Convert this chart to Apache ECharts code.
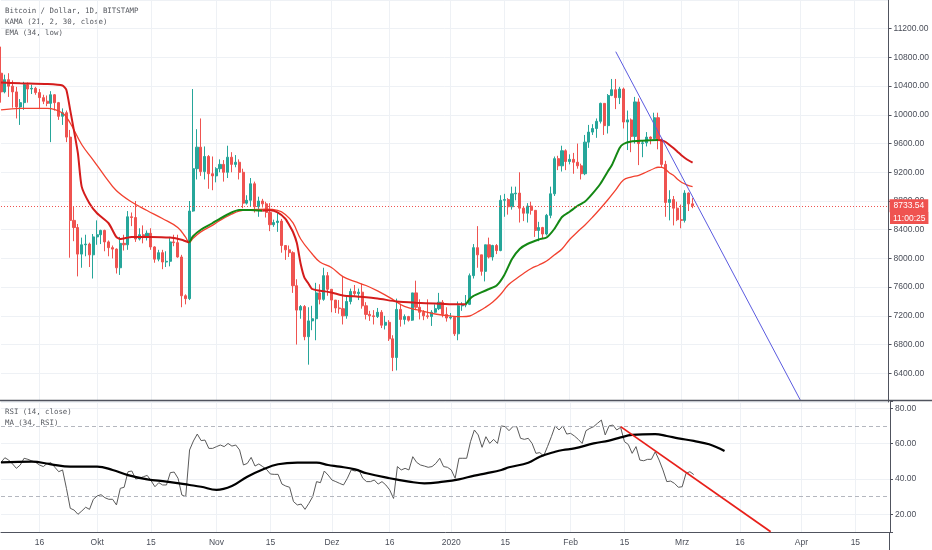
<!DOCTYPE html>
<html>
<head>
<meta charset="utf-8">
<script src="https://cdn.jsdelivr.net/npm/echarts@6.0.0/dist/echarts.min.js"></script>
<style>
  html, body { margin: 0; padding: 0; background: #fff; }
  #chart { width: 932px; height: 550px; }
</style>
</head>
<body>
<div id="chart"></div>
<script>
// daily axis, Sep 6 2019 .. Apr 24 2020
var cats = [];
for (var t = Date.UTC(2019, 8, 6); t <= Date.UTC(2020, 3, 24); t += 864e5) {
  cats.push(new Date(t).toISOString().slice(0, 10));
}

// date label -> tick text
var dateLabels = {
  '2019-09-16': '16', '2019-10-01': 'Okt', '2019-10-15': '15', '2019-11-01': 'Nov',
  '2019-11-15': '15', '2019-12-01': 'Dez', '2019-12-16': '16', '2020-01-01': '2020',
  '2020-01-15': '15', '2020-02-01': 'Feb', '2020-02-15': '15', '2020-03-01': 'Mrz',
  '2020-03-16': '16', '2020-04-01': 'Apr', '2020-04-15': '15'
};

// [open, close, low, high], one row per day from 2019-09-06
var ohlc = [
  [10580,10320,10170,10950],[10320,10490,10300,10560],[10490,10400,10250,10580],[10400,10320,10100,10480],
  [10320,10110,9950,10390],[10110,10170,9860,10220],[10170,10420,10070,10460],[10420,10360,10170,10450],
  [10360,10370,10290,10420],[10370,10310,10280,10390],[10310,10240,10080,10360],[10240,10190,10150,10280],
  [10190,10160,10120,10270],[10160,10280,9620,10330],[10280,10170,10060,10290],[10170,9980,9930,10180],
  [9980,10030,9860,10090],[10030,9690,9620,10060],[9690,8530,8010,9790],[8530,8430,8240,8730],
  [8430,8060,7750,8480],[8060,8190,7870,8290],[8190,8200,8030,8330],[8200,8050,7880,8220],
  [8050,8300,7720,8340],[8300,8330,8190,8530],[8330,8390,8200,8400],[8390,8230,8100,8400],
  [8230,8150,8030,8250],[8150,8130,8000,8180],[8130,7870,7790,8140],[7870,8210,7770,8300],
  [8210,8190,8110,8330],[8190,8580,8120,8660],[8580,8570,8450,8640],[8570,8270,8230,8800],
  [8270,8330,8250,8420],[8330,8290,8210,8460],[8290,8350,8250,8390],[8350,8160,8120,8420],
  [8160,7990,7940,8170],[7990,8080,7960,8120],[8080,7950,7850,8120],[7950,7960,7880,8100],
  [7960,8230,7890,8300],[8230,8220,8170,8330],[8220,8020,8010,8330],[8020,7480,7320,8050],
  [7480,7440,7360,7500],[7440,8660,7420,8800],[8660,9250,8650,10360],[9250,9550,9100,9800],
  [9550,9210,9150,9950],[9210,9420,9100,9560],[9420,9180,8970,9440],[9180,9150,8950,9420],
  [9150,9250,9060,9270],[9250,9310,9200,9380],[9310,9200,9070,9370],[9200,9410,9120,9570],
  [9410,9310,9200,9480],[9310,9340,9270,9440],[9340,9200,9100,9380],[9200,8770,8700,9250],
  [8770,8810,8750,8880],[8810,9040,8730,9120],[9040,8720,8640,9070],[8720,8800,8580,8860],
  [8800,8760,8710,8830],[8760,8640,8570,8790],[8640,8470,8380,8770],[8470,8500,8440,8540],
  [8500,8520,8370,8640],[8520,8180,8080,8550],[8180,8120,7980,8180],[8120,8080,8020,8180],
  [8080,7620,7520,8100],[7620,7280,6800,7710],[7280,7330,7160,7350],[7330,6910,6860,7350],
  [6910,7130,6520,7320],[7130,7160,7000,7340],[7160,7520,6860,7660],[7520,7430,7360,7640],
  [7430,7760,7410,7870],[7760,7570,7480,7810],[7570,7420,7250,7570],[7420,7310,7240,7420],
  [7310,7300,7230,7420],[7300,7200,7080,7750],[7200,7400,7160,7490],[7400,7540,7360,7580],
  [7540,7510,7480,7630],[7510,7530,7420,7580],[7530,7340,7300,7650],[7340,7220,7150,7390],
  [7220,7200,7130,7270],[7200,7190,7080,7280],[7190,7250,7170,7310],[7250,7070,7030,7280],
  [7070,7110,7010,7200],[7110,6880,6850,7140],[6880,6620,6430,6930],[6620,7290,6440,7440],
  [7290,7150,7050,7370],[7150,7190,7080,7220],[7190,7140,7120,7200],[7140,7520,7130,7520],
  [7520,7320,7280,7690],[7320,7250,7150,7430],[7250,7200,7140,7280],[7200,7190,7160,7430],
  [7190,7250,7060,7280],[7250,7300,7240,7360],[7300,7390,7280,7520],[7390,7220,7180,7420],
  [7220,7170,7120,7320],[7170,7180,7150,7240],[7180,6950,6920,7190],[6950,7340,6860,7400],
  [7340,7350,7270,7390],[7350,7360,7320,7490],[7360,7760,7350,7790],[7760,8150,7720,8200],
  [8150,8050,7870,8450],[8050,7820,7760,8050],[7820,8190,7680,8190],[8190,8020,8000,8290],
  [8020,8180,7970,8190],[8180,8110,8060,8200],[8110,8810,8100,8880],[8810,8820,8580,8900],
  [8820,8720,8610,8840],[8720,8900,8680,9000],[8900,8910,8810,9000],[8910,8700,8500,9200],
  [8700,8630,8520,8720],[8630,8730,8500,8770],[8730,8670,8610,8790],[8670,8390,8300,8670],
  [8390,8430,8240,8510],[8430,8340,8280,8440],[8340,8600,8320,8620],[8600,8900,8560,9000],
  [8900,9390,8870,9420],[9390,9290,9230,9430],[9290,9500,9210,9570],[9500,9350,9230,9520],
  [9350,9380,9310,9450],[9380,9340,9180,9470],[9340,9290,9250,9600],[9290,9180,9100,9320],
  [9180,9620,9160,9720],[9620,9760,9540,9860],[9760,9810,9720,9870],[9810,9910,9680,9950],
  [9910,10160,9880,10170],[10160,9850,9720,10160],[9850,10270,9740,10290],[10270,10350,10260,10500],
  [10350,10240,10080,10500],[10240,10360,10150,10390],[10360,9900,9810,10380],[9900,9930,9510,10060],
  [9930,9700,9480,9950],[9700,10180,9600,10250],[10180,9600,9300,10230],[9600,9610,9410,9650],
  [9610,9690,9560,9760],[9690,9670,9590,9700],[9670,9960,9660,10030],[9960,9660,9520,10030],
  [9660,9310,9270,9670],[9310,8780,8580,9360],[8780,8820,8530,8950],[8820,8700,8460,8870],
  [8700,8540,8520,8790],[8540,8530,8420,8750],[8530,8910,8500,8950],[8910,8760,8660,8920],
  [8760,8733.54,8700,8840]
];

// KAMA (21, 2, 30, close): falling parts red, rising parts green
var kamaDown1 = [['2019-09-06',10450],['2019-09-11',10440],['2019-09-18',10430],['2019-09-22',10410],
  ['2019-09-23',10350],['2019-09-24',10070],['2019-09-26',9470],['2019-09-27',9000],['2019-09-29',8770],
  ['2019-10-01',8630],['2019-10-04',8490],['2019-10-06',8300],['2019-10-07',8270],['2019-10-10',8300],
  ['2019-10-15',8300],['2019-10-20',8290],['2019-10-23',8260],['2019-10-25',8220]];
var kamaUp1 = [['2019-10-25',8220],['2019-10-26',8310],['2019-10-28',8400],['2019-10-31',8490],
  ['2019-11-02',8555],['2019-11-05',8640],['2019-11-07',8675],['2019-11-10',8675],['2019-11-13',8665]];
var kamaDown2 = [['2019-11-13',8665],['2019-11-15',8670],['2019-11-17',8640],['2019-11-19',8553],
  ['2019-11-20',8466],['2019-11-21',8368],['2019-11-22',8215],['2019-11-23',7923],['2019-11-24',7728],
  ['2019-11-25',7651],['2019-11-26',7574],['2019-11-28',7551],['2019-12-01',7526],['2019-12-04',7484],
  ['2019-12-08',7467],['2019-12-13',7442],['2019-12-18',7400],['2019-12-23',7383],['2019-12-28',7372],
  ['2020-01-02',7361],['2020-01-05',7362]];
var kamaUp2 = [['2020-01-05',7362],['2020-01-06',7435],['2020-01-07',7477],['2020-01-09',7526],
  ['2020-01-11',7574],['2020-01-13',7623],['2020-01-15',7770],['2020-01-17',7992],['2020-01-19',8132],
  ['2020-01-21',8201],['2020-01-24',8264],['2020-01-26',8292],['2020-01-28',8410],['2020-01-30',8577],
  ['2020-02-01',8651],['2020-02-03',8730],['2020-02-05',8793],['2020-02-07',8907],['2020-02-09',9041],
  ['2020-02-11',9218],['2020-02-12',9302],['2020-02-14',9538],['2020-02-15',9594],['2020-02-17',9629],
  ['2020-02-20',9640],['2020-02-24',9650]];
var kamaDown3 = [['2020-02-24',9650],['2020-02-25',9643],['2020-02-26',9622],['2020-02-27',9580],
  ['2020-02-28',9538],['2020-02-29',9490],['2020-03-01',9441],['2020-03-02',9399],['2020-03-03',9364],
  ['2020-03-04',9334]];

// EMA (34, low)
var ema = [['2019-09-06',10068],['2019-09-11',10091],['2019-09-18',10091],['2019-09-22',10026],
  ['2019-09-24',9887],['2019-09-27',9587],['2019-09-30',9371],['2019-10-03',9148],['2019-10-06',8946],
  ['2019-10-10',8786],['2019-10-14',8668],['2019-10-18',8556],['2019-10-22',8431],['2019-10-24',8299],
  ['2019-10-25',8222],['2019-10-26',8280],['2019-10-28',8370],['2019-10-31',8460],['2019-11-02',8530],
  ['2019-11-05',8615],['2019-11-07',8660],['2019-11-10',8680],['2019-11-14',8685],['2019-11-17',8668],
  ['2019-11-19',8612],['2019-11-21',8494],['2019-11-23',8271],['2019-11-26',8062],['2019-11-28',7950],
  ['2019-12-01',7874],['2019-12-04',7746],['2019-12-07',7679],['2019-12-10',7623],['2019-12-13',7547],
  ['2019-12-17',7428],['2019-12-20',7331],['2019-12-24',7275],['2019-12-28',7226],['2020-01-01',7198],
  ['2020-01-04',7188],['2020-01-06',7198],['2020-01-08',7254],['2020-01-10',7316],['2020-01-12',7393],
  ['2020-01-14',7498],['2020-01-16',7630],['2020-01-18',7714],['2020-01-20',7790],['2020-01-22',7860],
  ['2020-01-24',7909],['2020-01-26',7964],['2020-01-28',8048],['2020-01-30',8132],['2020-02-01',8264],
  ['2020-02-03',8368],['2020-02-05',8466],['2020-02-07',8577],['2020-02-09',8696],['2020-02-11',8821],
  ['2020-02-13',8954],['2020-02-15',9093],['2020-02-17',9134],['2020-02-19',9158],['2020-02-21',9204],
  ['2020-02-23',9253],['2020-02-24',9270],['2020-02-25',9267],['2020-02-26',9239],['2020-02-27',9190],
  ['2020-02-28',9158],['2020-02-29',9107],['2020-03-01',9065],['2020-03-02',9037],['2020-03-03',9013],
  ['2020-03-04',9000]];

// RSI (14, close), one value per day from 2019-09-06
var rsi = [49.4,52.0,50.7,48.5,46.0,47.9,51.7,51.1,50.2,49.4,47.9,47.0,48.8,49.2,46.6,44.1,45.1,34.7,23.4,22.4,
  20.0,21.9,24.0,22.8,28.5,30.4,31.1,29.4,28.5,28.5,25.3,34.7,35.3,44.1,44.5,40.0,40.4,41.3,42.0,39.0,
  35.6,37.9,36.6,36.6,43.6,43.9,40.4,30.9,30.0,56.4,61.5,65.4,61.7,62.0,57.3,57.3,58.3,59.2,58.3,60.1,
  58.6,59.2,56.4,47.9,48.8,52.2,47.3,48.5,47.0,45.4,42.8,42.6,42.6,37.1,36.0,35.3,27.2,25.3,25.8,22.8,
  26.2,30.0,38.5,37.9,44.5,42.2,39.4,38.5,37.5,36.6,40.4,45.1,44.5,45.1,40.4,38.5,38.5,39.4,37.1,38.5,
  36.6,33.8,29.0,47.0,45.1,46.0,45.1,52.6,49.4,47.9,47.3,46.6,47.0,48.8,51.7,47.0,46.6,45.1,40.4,51.7,
  51.7,51.7,61.1,67.7,64.9,57.9,63.9,60.1,62.4,60.1,70.0,69.6,67.3,69.6,69.6,63.0,62.4,63.0,60.1,54.5,
  54.9,53.0,58.3,63.9,70.0,67.7,70.0,65.4,65.8,64.3,62.4,60.1,67.3,68.6,69.6,71.5,73.3,64.9,70.0,70.5,
  67.7,69.2,61.1,59.5,54.5,58.3,50.7,50.3,51.1,51.1,55.4,50.7,45.1,38.5,38.8,37.5,35.3,35.6,43.2,44.1,
  42.5];

// MA (34, RSI)
var rsiMa = [['2019-09-06',49.4],['2019-09-14',49.8],['2019-09-19',48.3],['2019-09-24',47.0],['2019-10-01',47.0],
  ['2019-10-05',45.1],['2019-10-09',42.2],['2019-10-14',39.8],['2019-10-19',38.5],['2019-10-25',36.6],
  ['2019-10-28',35.6],['2019-11-01',33.8],['2019-11-05',36.0],['2019-11-09',41.3],['2019-11-13',45.4],
  ['2019-11-17',48.3],['2019-11-22',49.2],['2019-11-27',49.2],['2019-11-30',47.9],['2019-12-03',47.0],
  ['2019-12-07',45.4],['2019-12-10',43.2],['2019-12-16',40.4],['2019-12-21',38.5],['2019-12-25',37.5],
  ['2019-12-30',38.5],['2020-01-03',39.8],['2020-01-07',41.9],['2020-01-10',43.2],['2020-01-14',45.1],
  ['2020-01-16',46.6],['2020-01-21',49.2],['2020-01-24',52.6],['2020-01-28',55.4],['2020-01-30',56.4],
  ['2020-02-02',57.3],['2020-02-07',60.1],['2020-02-11',61.7],['2020-02-14',63.5],['2020-02-17',64.9],
  ['2020-02-23',65.4],['2020-02-26',64.3],['2020-02-29',63.0],['2020-03-04',61.5],['2020-03-08',59.6],
  ['2020-03-12',55.8]];

// drawn trend lines
var priceTrend = [['2020-02-13',10880],['2020-04-01',6030]];
var rsiTrend = [['2020-02-14',69.6],['2020-03-24',10.2]];
var rsiBands = [70, 30];

var lastClose = ohlc[ohlc.length - 1][1];
var timerText = '11:00:25';

function idx(d) { return cats.indexOf(d); }
function pts(list) { return list.map(function (p) { return [idx(p[0]), p[1]]; }); }

var axisColor = '#50535e';
var textColor = '#4a4e59';
var gridColor = '#eef1f5';
var labelFont = 'Liberation Sans';
var monoFont = 'DejaVu Sans Mono';
var legendFont = '7.4px "' + monoFont + '"';

function showDate(i, v) { return dateLabels.hasOwnProperty(v); }

function lineSeries(name, list, color, width, opts) {
  var s = {
    name: name, type: 'line', data: pts(list), showSymbol: false, symbol: 'none',
    xAxisIndex: 0, yAxisIndex: 0, z: 3, silent: true,
    lineStyle: { color: color, width: width }
  };
  for (var k in (opts || {})) s[k] = opts[k];
  return s;
}

var chart = echarts.init(document.getElementById('chart'));
chart.setOption({
  animation: false,
  backgroundColor: '#fff',
  grid: [
    { left: 1, right: 42, top: 0, height: 402 },
    { left: 1, right: 42, top: 401, height: 131 }
  ],
  xAxis: [
    {
      gridIndex: 0, type: 'category', data: cats, boundaryGap: false,
      axisLine: { show: false }, axisTick: { show: false }, axisLabel: { show: false },
      splitLine: { show: true, interval: showDate, lineStyle: { color: gridColor } }
    },
    {
      gridIndex: 1, type: 'category', data: cats, boundaryGap: false,
      axisLine: { show: true, lineStyle: { color: axisColor } },
      axisTick: { show: false },
      axisLabel: {
        interval: showDate, formatter: function (v) { return dateLabels[v] || ''; },
        color: textColor, fontSize: 8.5, fontFamily: labelFont, margin: 6
      },
      splitLine: { show: true, interval: showDate, lineStyle: { color: gridColor } }
    }
  ],
  yAxis: [
    {
      gridIndex: 0, type: 'value', position: 'right', min: 6000, max: 11600, interval: 400,
      axisLine: { show: true, lineStyle: { color: axisColor } },
      axisTick: { show: true, length: 3, lineStyle: { color: axisColor } },
      axisLabel: {
        color: textColor, fontSize: 8.5, fontFamily: labelFont, margin: 5,
        showMinLabel: false, showMaxLabel: false,
        formatter: function (v) { return v.toFixed(2); }
      },
      splitLine: { lineStyle: { color: gridColor } }
    },
    {
      gridIndex: 1, type: 'value', position: 'right', min: 10, max: 84.1, splitNumber: 4,
      axisLine: { show: true, lineStyle: { color: axisColor } },
      axisTick: { show: true, length: 3, lineStyle: { color: axisColor } },
      axisLabel: {
        color: textColor, fontSize: 8.5, fontFamily: labelFont, margin: 5,
        formatter: function (v) { return v % 20 === 0 ? v.toFixed(2) : ''; }
      },
      splitLine: { lineStyle: { color: gridColor } }
    }
  ],
  series: [
    {
      name: 'BTCUSD', type: 'candlestick', data: ohlc, xAxisIndex: 0, yAxisIndex: 0,
      barWidth: 2.6, z: 2,
      itemStyle: {
        color: '#26a69a', color0: '#ef5350', borderColor: '#26a69a', borderColor0: '#ef5350', borderWidth: 1
      },
      markLine: {
        silent: true, symbol: 'none', z: 10,
        lineStyle: { type: [1, 2], color: '#ef5350', width: 1 },
        label: {
          show: true, position: 'end', distance: 1,
          formatter: lastClose.toFixed(2),
          backgroundColor: '#ef5350', color: '#fff', fontSize: 8.5, fontFamily: labelFont,
          padding: [2, 4, 2, 4]
        },
        data: [{ yAxis: lastClose }]
      }
    },
    lineSeries('EMA', ema, '#f2412f', 1.3, { smooth: 0.4 }),
    lineSeries('KAMA', kamaDown1, '#d41c1c', 2, { smooth: 0.2 }),
    lineSeries('KAMA', kamaUp1, '#148814', 2, { smooth: 0.2 }),
    lineSeries('KAMA', kamaDown2, '#d41c1c', 2, { smooth: 0.2 }),
    lineSeries('KAMA', kamaUp2, '#148814', 2, { smooth: 0.2 }),
    lineSeries('KAMA', kamaDown3, '#d41c1c', 2, { smooth: 0.2 }),
    lineSeries('trend', priceTrend, '#5b5be0', 1, {}),
    {
      name: 'RSI', type: 'line', data: rsi, xAxisIndex: 1, yAxisIndex: 1,
      showSymbol: false, symbol: 'none', silent: true, z: 3,
      lineStyle: { color: '#5a5a5a', width: 1 },
      markLine: {
        silent: true, symbol: 'none', label: { show: false },
        lineStyle: { type: [4, 3], color: '#b4b7bf', width: 1 },
        data: rsiBands.map(function (v) { return { yAxis: v }; })
      }
    },
    {
      name: 'MA', type: 'line', data: pts(rsiMa), xAxisIndex: 1, yAxisIndex: 1,
      showSymbol: false, symbol: 'none', silent: true, smooth: 0.4, z: 4,
      lineStyle: { color: '#000', width: 2.2 }
    },
    {
      name: 'rsiTrend', type: 'line', data: pts(rsiTrend), xAxisIndex: 1, yAxisIndex: 1,
      showSymbol: false, symbol: 'none', silent: true, z: 5,
      lineStyle: { color: '#e8201a', width: 1.8 }
    }
  ],
  graphic: [
    { type: 'line', silent: true, z: 20, shape: { x1: 0, y1: 400.5, x2: 932, y2: 400.5 },
      style: { stroke: axisColor, lineWidth: 1.5 } },
    { type: 'line', silent: true, z: 20, shape: { x1: 889.5, y1: 532, x2: 889.5, y2: 550 },
      style: { stroke: axisColor, lineWidth: 1 } },
    { type: 'text', silent: true, left: 5, top: 8,
      style: { text: 'Bitcoin / Dollar, 1D, BITSTAMP', fill: '#55585f', font: legendFont } },
    { type: 'text', silent: true, left: 5, top: 19,
      style: { text: 'KAMA (21, 2, 30, close)', fill: '#55585f', font: legendFont } },
    { type: 'text', silent: true, left: 5, top: 30,
      style: { text: 'EMA (34, low)', fill: '#55585f', font: legendFont } },
    { type: 'text', silent: true, z: 30, left: 5, top: 409,
      style: { text: 'RSI (14, close)', fill: '#55585f', font: legendFont } },
    { type: 'text', silent: true, z: 30, left: 5, top: 420,
      style: { text: 'MA (34, RSI)', fill: '#55585f', font: legendFont } },
    { type: 'text', silent: true, z: 30, left: 890, top: 212,
      style: { text: timerText, fill: '#fff', backgroundColor: '#ef5350', padding: [2, 3, 1, 3],
        font: '8.5px "' + labelFont + '"' } }
  ]
});
</script>
</body>
</html>
